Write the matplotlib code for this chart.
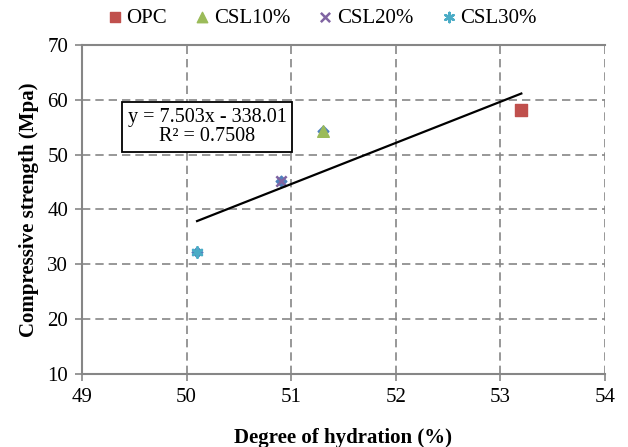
import numpy as np
import matplotlib.pyplot as plt

plt.rcParams['font.family'] = ['Liberation Serif', 'DejaVu Serif']

# data
series = ["OPC", "CSL10%", "CSL20%", "CSL30%"]
hydration = [53.2, 51.3, 50.9, 50.1]
strength = [58.1, 54.3, 45.2, 32.3]
colors = ["#C0504D", "#9BBB59", "#8064A2", "#4BACC6"]
markers = ["s", "^", "x", (6, 2, 0)]

# trendline (Excel linear fit)
slope = 7.503
intercept = -338.01
r2 = 0.7508

x_ticks = [49, 50, 51, 52, 53, 54]
y_ticks = [10, 20, 30, 40, 50, 60, 70]

fig = plt.figure(figsize=(6.28, 4.47), dpi=100)
ax = fig.add_axes([82 / 628, 1 - 374 / 447, (605 - 82) / 628, (374 - 45) / 447])

# hidden "all points" series under the markers
ax.scatter(hydration, strength, marker="D", s=30, color="#4F81BD", zorder=3)

for name, xv, yv, c, m in zip(series, hydration, strength, colors, markers):
    if m == "x" or m == (6, 2, 0):
        ax.scatter([xv], [yv], marker=m, s=55, color=c, linewidths=1.8,
                   label=name, zorder=4)
    else:
        ax.scatter([xv], [yv], marker=m, s=70, color=c, label=name, zorder=4)

xf = np.array([min(hydration), max(hydration)])
ax.plot(xf, slope * xf + intercept, color="black", lw=1.6, zorder=5)

fig.text(207 / 628, 1 - 127 / 447,
         "y = %.3fx - %.2f\nR² = %.4f" % (slope, -intercept, r2),
         ha="center", va="center", fontsize=14.5, linespacing=1.05,
         bbox=dict(boxstyle="square,pad=0.3", fc="white", ec="black", lw=1.3),
         zorder=6)

ax.set_xlim(49, 54)
ax.set_ylim(10, 70)
ax.set_xticks(x_ticks)
ax.set_yticks(y_ticks)
ax.tick_params(labelsize=15, direction="out", length=5, color="#868686",
               width=1.2, pad=5)
ax.grid(True, ls=(0, (5, 3)), color="#868686", lw=1.2)
ax.set_axisbelow(True)
for side in ["left", "bottom", "top"]:
    ax.spines[side].set_color("#868686")
    ax.spines[side].set_linewidth(1.5)
ax.spines["right"].set_visible(False)

ax.set_xlabel("Degree of hydration (%)", fontsize=15, fontweight="bold",
              labelpad=15)
ax.set_ylabel("Compressive strength (Mpa)", fontsize=15, fontweight="bold",
              labelpad=6)

fig.legend(loc="center", bbox_to_anchor=(321 / 628, 1 - 18 / 447), ncol=4,
           frameon=False, fontsize=15, handletextpad=0.1, columnspacing=1.25,
           markerscale=0.9, handlelength=0.9)

fig.savefig("out.png", dpi=100)
